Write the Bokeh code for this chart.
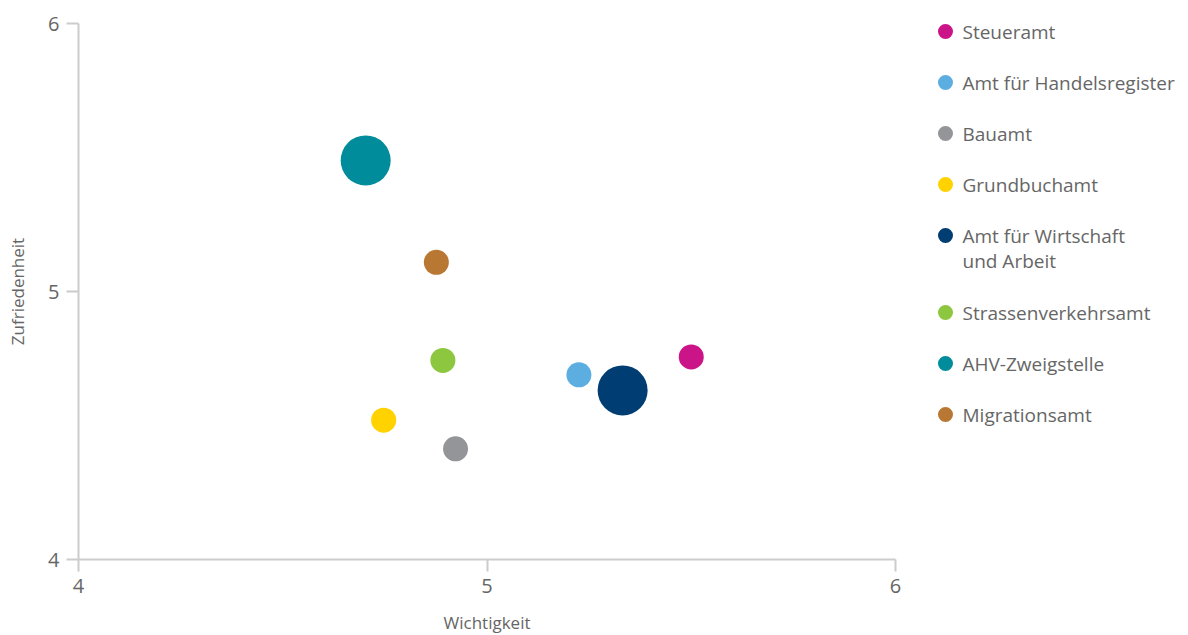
import math
from bokeh.plotting import figure
from bokeh.layouts import row
from bokeh.models import Range1d, FixedTicker, ColumnDataSource
from bokeh.embed import file_html
from bokeh.resources import INLINE
from bokeh.core.properties import value

# ---- data ----
categories = ["Steueramt", "Amt für Handelsregister", "Bauamt", "Grundbuchamt",
              "Amt für Wirtschaft\nund Arbeit", "Strassenverkehrsamt",
              "AHV-Zweigstelle", "Migrationsamt"]
wichtigkeit = [5.50, 5.225, 4.923, 4.747, 5.332, 4.892, 4.703, 4.876]
zufriedenheit = [4.756, 4.689, 4.413, 4.520, 4.631, 4.743, 5.489, 5.109]
gewicht = [1, 1, 1, 1, 4, 1, 4, 1]
colors = ["#CC1489", "#5DAEE0", "#939598", "#FFD200",
          "#003D72", "#8DC63F", "#008C9A", "#B87833"]
x_ticks = [4, 5, 6]
y_ticks = [4, 5, 6]
x_title = "Wichtigkeit"
y_title = "Zufriedenheit"

FONT = "Open Sans"
TXT = "#666666"
AX = "#cccccc"

src = ColumnDataSource(dict(
    x=wichtigkeit, y=zufriedenheit,
    size=[25 * math.sqrt(g) for g in gewicht],
    color=colors,
))

p = figure(frame_width=817, frame_height=536, output_backend="svg", toolbar_location=None,
           x_range=Range1d(4, 6), y_range=Range1d(4, 6),
           min_border_left=78, min_border_right=10, min_border_top=23, min_border_bottom=70)
p.outline_line_color = None
p.xgrid.visible = False
p.ygrid.visible = False
p.background_fill_color = "white"

p.scatter("x", "y", size="size", fill_color="color", line_color=None, source=src)

for ax, ticks in ((p.xaxis, x_ticks), (p.yaxis, y_ticks)):
    ax.ticker = FixedTicker(ticks=ticks)
    ax.axis_line_color = AX
    ax.axis_line_width = 2
    ax.major_tick_line_color = AX
    ax.major_tick_line_width = 2
    ax.major_tick_out = 12
    ax.major_tick_in = 0
    ax.minor_tick_line_color = None
    ax.major_label_text_font = FONT
    ax.major_label_text_font_size = "20px"
    ax.major_label_text_color = TXT
    ax.major_label_standoff = 7
    ax.axis_label_text_font = FONT
    ax.axis_label_text_font_size = "17px"
    ax.axis_label_text_font_style = "normal"
    ax.axis_label_text_color = TXT

p.xaxis.axis_label = x_title
p.yaxis.axis_label = y_title
p.xaxis.axis_label_standoff = 15
p.yaxis.axis_label_standoff = 16

# ---- legend panel (frame aligned with main plot frame: pixel rows 23..559) ----
lg = figure(frame_width=283, frame_height=536, output_backend="svg", toolbar_location=None,
            x_range=Range1d(0, 283), y_range=Range1d(559, 23),
            min_border_left=0, min_border_right=0, min_border_top=23, min_border_bottom=0)
lg.outline_line_color = None
lg.axis.visible = False
lg.grid.visible = False

dot_y, txt_y, txt = [], [], []
cur = 31
for c in categories:
    lines = c.split("\n")
    dot_y.append(cur)
    for i, ln in enumerate(lines):
        txt_y.append(cur + i * 25)
        txt.append(ln)
    cur += 51 + 26 * (len(lines) - 1)

lg.scatter(x=[40] * len(categories), y=dot_y, size=15, fill_color=colors, line_color=None)
lg.text(x=[57] * len(txt), y=txt_y, text=txt, text_font=value(FONT),
        text_font_size="19px", text_color=TXT, text_baseline="middle", text_align="left")

layout = row(p, lg)
open("out.html", "w").write(file_html(layout, INLINE))
